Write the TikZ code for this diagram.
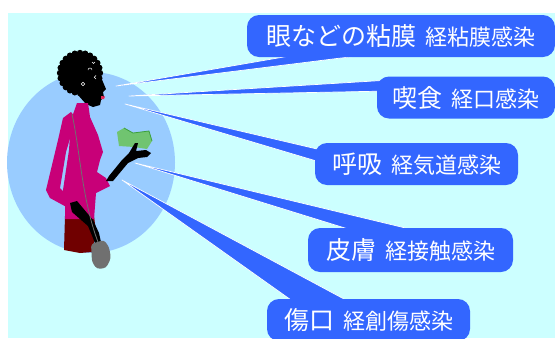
\documentclass[tikz,border=0pt]{standalone}
\usepackage{fontspec}
\setmainfont{Noto Sans CJK JP}

\definecolor{bgcyan}{RGB}{204,255,255}
\definecolor{haloblue}{RGB}{153,204,255}
\definecolor{callblue}{RGB}{51,102,255}
\definecolor{sweater}{RGB}{200,0,120}
\definecolor{skirt}{RGB}{112,0,0}
\definecolor{bag}{RGB}{112,112,112}
\definecolor{cash}{RGB}{112,196,112}
\definecolor{cashdark}{RGB}{60,160,60}
\definecolor{lips}{RGB}{230,40,90}

\newcommand{\routetext}[2]{{\fontsize{25}{30}\selectfont #1}\hspace{9pt}{\fontsize{22}{26}\selectfont #2}}

\pgfdeclarelayer{back}
\pgfdeclarelayer{rays}
\pgfsetlayers{back,rays,main}

\tikzset{
  route/.style={fill=callblue, text=white, rounded corners=12pt, inner sep=0pt, minimum height=42pt},
  ray/.style={fill=callblue, draw=white, line width=0.7pt, line join=round}
}

\begin{document}
\begin{tikzpicture}[x=1pt, y=-1pt]
  \useasboundingbox (0,0) rectangle (555,338);

  % the five routes
  \node[route, minimum width=308pt] (mucosa) at (401,36) {\routetext{眼などの粘膜}{経粘膜感染}};
  \node[route, minimum width=178pt] (eating) at (466,97.5) {\routetext{喫食}{経口感染}};
  \node[route, minimum width=203pt] (breath) at (416.5,164) {\routetext{呼吸}{経気道感染}};
  \node[route, minimum width=205pt, minimum height=44pt] (skin) at (410.5,250) {\routetext{皮膚}{経接触感染}};
  \node[route, minimum width=203pt] (wound) at (368.5,320) {\routetext{傷口}{経創傷感染}};

  \coordinate (eyes) at (116,86);
  \coordinate (nose) at (125,104);
  \coordinate (mouth) at (129,96);
  \coordinate (hand) at (135,163);
  \coordinate (cut) at (122,180);

  \begin{pgfonlayer}{back}
    \fill[white] (0,0) rectangle (555,338);
    \fill[bgcyan] (8,13) rectangle (555,338);
    \fill[haloblue] (91,162.5) ellipse [x radius=84, y radius=90.5];

    % hair and face
    \fill[black] (80,73) circle (21);
    \foreach \a in {0,15,...,345}
      \fill[black] (80,73) ++(\a:20) circle (3.2);
    \fill[black] (86,80) -- (99,72) -- (103,82) -- (106,89) -- (103,92) -- (104,97) -- (101,100)
      -- (100,105) -- (93,107) -- (86,104) -- (78,95) -- cycle;
    \fill[lips] (101,96) -- (105,96.5) -- (104,99) -- (101,99) -- cycle;
    \draw[white, line width=0.5pt] (83,84) circle (1.8);
    \draw[white, line width=0.5pt] (88,70) arc (180:360:2);
    \draw[white, line width=0.5pt] (96,79) arc (90:270:1.8);
    \draw[white, line width=0.5pt] (95,62) arc (0:180:1.5);

    % skirt, sweater, arms
    \fill[skirt] (65,216) -- (94,216) -- (96,232) -- (92,252) -- (80,253) -- (64,250) -- cycle;
    \fill[sweater] (77,103) -- (88,103) -- (90,117) -- (98,135) -- (103,152) -- (100,160) -- (97,172)
      -- (106,178) -- (110,186) -- (96,193) -- (94,219) -- (65,219) -- (65,205) -- (63,190)
      -- (69,150) -- (71,120) -- cycle;
    \fill[sweater] (71,112) -- (76,118) -- (66,152) -- (60,188) -- (72,200) -- (72,210) -- (50,198)
      -- (46,190) -- (58,140) -- (63,118) -- cycle;
    \fill[black] (70,203) -- (77,201) -- (93,220) -- (99,233) -- (101,242) -- (96,246) -- (93,238)
      -- (88,226) -- (72,212) -- cycle;
    \fill[cash] (117,132) -- (124,128) -- (133,133) -- (149,131) -- (152,141) -- (147,149)
      -- (134,147) -- (119,146) -- cycle;
    \draw[cashdark, line width=0.8pt] (124,128) -- (133,133) -- (149,131) -- (152,141);
    \fill[black] (106,181) -- (109,176) -- (122,160) -- (129,153) -- (135,143) -- (138,143) -- (136,151)
      -- (146,150) -- (151,153) -- (147,157) -- (138,158) -- (128,163) -- (113,181) -- cycle;

    % bag and strap
    \draw[bag, line width=0.8pt] (72,114) .. controls (80,150) and (82,200) .. (98,242);
    \fill[bag, rounded corners=3pt] (91,244) -- (104,240) -- (109,247) -- (111,258) -- (106,268)
      -- (97,269) -- (92,262) -- cycle;
  \end{pgfonlayer}

  \begin{pgfonlayer}{rays}
    \filldraw[ray] (eyes) -- ([xshift=53pt, yshift=3pt]mucosa.south west)
      -- ([xshift=173pt, yshift=9pt]mucosa.south west) -- cycle;
    \filldraw[ray] (mouth) -- ([xshift=13pt, yshift=17.5pt]eating.west)
      -- ([xshift=13pt, yshift=6.5pt]eating.west) -- cycle;
    \filldraw[ray] (nose) -- ([xshift=15pt, yshift=12pt]breath.west)
      -- ([xshift=15pt, yshift=-1pt]breath.west) -- cycle;
    \filldraw[ray] (hand) -- ([xshift=126pt, yshift=-7pt]skin.north west)
      -- ([xshift=59pt, yshift=-7pt]skin.north west) -- cycle;
    \filldraw[ray] (cut) -- ([xshift=88pt, yshift=-6pt]wound.north west)
      -- ([xshift=31pt, yshift=-6pt]wound.north west) -- cycle;
  \end{pgfonlayer}
\end{tikzpicture}
\end{document}
